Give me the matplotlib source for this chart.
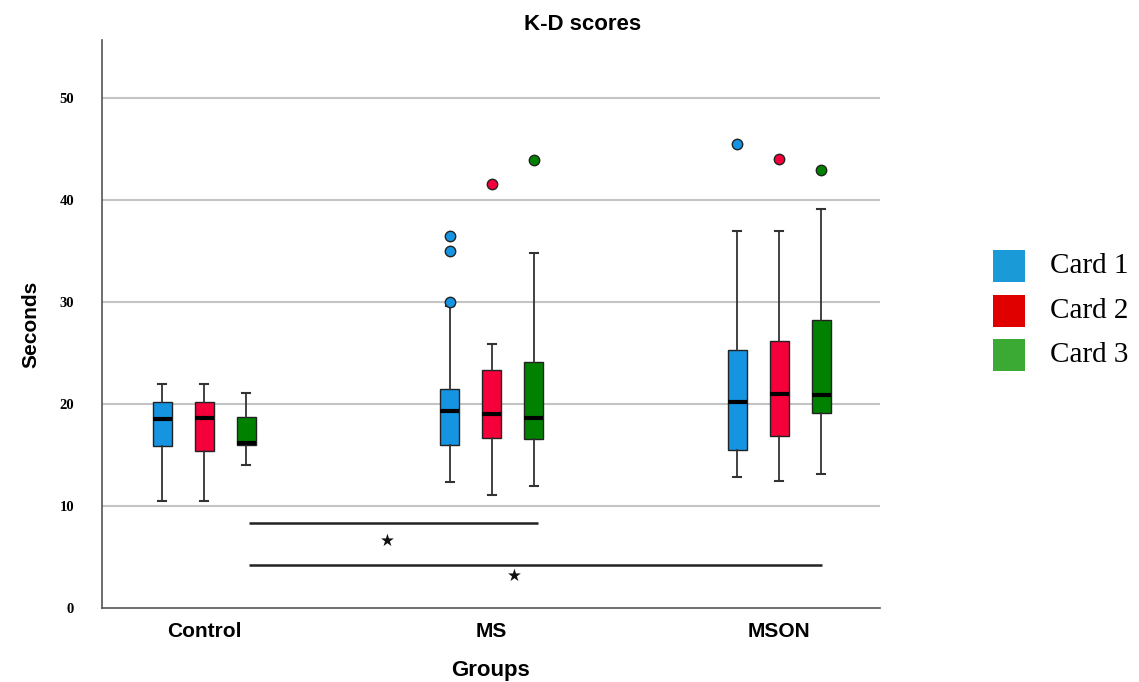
import matplotlib
matplotlib.use("Agg")
import matplotlib.pyplot as plt
from matplotlib.patches import Rectangle

groups = ["Control", "MS", "MSON"]
cards = ["Card 1", "Card 2", "Card 3"]
box_colors = ["#1594e2", "#f5003a", "#008200"]
legend_colors = ["#1b9ad8", "#e10000", "#3aaa35"]

# per group, per card: [whisker low, Q1, median, Q3, whisker high]
control = [[10.5, 15.9, 18.5, 20.2, 22.0],
           [10.5, 15.4, 18.6, 20.2, 22.0],
           [14.0, 16.0, 16.2, 18.7, 21.1]]
ms = [[12.4, 16.0, 19.3, 21.5, 29.6],
      [11.1, 16.7, 19.0, 23.3, 25.9],
      [12.0, 16.6, 18.6, 24.1, 34.8]]
mson = [[12.8, 15.5, 20.2, 25.3, 37.0],
        [12.5, 16.9, 21.0, 26.2, 37.0],
        [13.1, 19.1, 20.9, 28.2, 39.1]]
outliers = {"Control": [[], [], []],
            "MS": [[36.5, 35.0, 30.0], [41.6], [43.9]],
            "MSON": [[45.5], [44.0], [43.0]]}
stats_by_group = {"Control": control, "MS": ms, "MSON": mson}

sig_lines = [(0.157, 1.162, 8.3), (0.157, 2.15, 4.2)]
sig_stars = [(0.636, 6.6), (1.08, 3.1)]
yticks = [0, 10, 20, 30, 40, 50]

W, H = 1139, 682
fig = plt.figure(figsize=(W/100, H/100), dpi=100)
ax = fig.add_axes([102/W, 1-608/H, (880-102)/W, (608-40)/H])

offsets = [-0.146, 0.0, 0.146]
width = 0.066
for gi, g in enumerate(groups):
    for ci in range(3):
        lo, q1, med, q3, hi = stats_by_group[g][ci]
        st = [dict(whislo=lo, q1=q1, med=med, q3=q3, whishi=hi,
                   fliers=outliers[g][ci])]
        pos = gi + offsets[ci]
        ax.bxp(st, positions=[pos], widths=width, capwidths=width*0.42,
               patch_artist=True, manage_ticks=False,
               boxprops=dict(facecolor=box_colors[ci], edgecolor="#222222", linewidth=1.0),
               medianprops=dict(color="black", linewidth=3.0, solid_capstyle="butt"),
               whiskerprops=dict(color="#333333", linewidth=1.3),
               capprops=dict(color="#333333", linewidth=1.5),
               flierprops=dict(marker="o", markersize=7.5, markerfacecolor=box_colors[ci],
                               markeredgecolor="#222222", markeredgewidth=1.0))

for x0, x1, y in sig_lines:
    ax.plot([x0, x1], [y, y], color="#222222", linewidth=1.8, solid_capstyle="butt")
for x, y in sig_stars:
    ax.text(x, y, "★", ha="center", va="center", fontsize=12, color="#111111",
            family=["DejaVu Sans"])

ax.set_xlim(-0.355, 2.35)
ax.set_ylim(0, 55.7)
ax.set_yticks(yticks)
ax.set_yticklabels([str(t) for t in yticks], family="Liberation Serif",
                   fontweight="bold", fontsize=10.5)
for t in yticks[1:]:
    ax.axhline(t, color="#c4c4c4", linewidth=1.5, zorder=0)
ax.tick_params(axis="y", length=0, pad=20)
ax.set_xticks([0, 1, 2])
ax.set_xticklabels(groups, fontsize=15, fontweight="bold", family="Liberation Sans")
ax.tick_params(axis="x", length=0, pad=10)

for s in ["top", "right"]:
    ax.spines[s].set_visible(False)
for s in ["left", "bottom"]:
    ax.spines[s].set_color("#555555")
    ax.spines[s].set_linewidth(1.2)

ax.set_xlabel("Groups", fontsize=16, fontweight="bold", family="Liberation Sans", labelpad=14)
ax.set_ylabel("Seconds", fontsize=15, fontweight="bold", family="Liberation Sans", labelpad=14)
fig.text(583/W, 1-25/H, "K-D scores", ha="center", va="center",
         fontsize=16, fontweight="bold", family="Liberation Sans")

# legend drawn in figure pixel coordinates
leg_y = [266, 311, 355]
for c, lab, yc in zip(legend_colors, cards, leg_y):
    fig.add_artist(Rectangle(((993)/W, 1-(yc+16)/H), 32/W, 32/H,
                             transform=fig.transFigure, facecolor=c, edgecolor="none"))
    fig.text(1050/W, 1-yc/H, lab, ha="left", va="center", fontsize=21,
             family="Liberation Serif")

fig.savefig("out.png", dpi=100)
